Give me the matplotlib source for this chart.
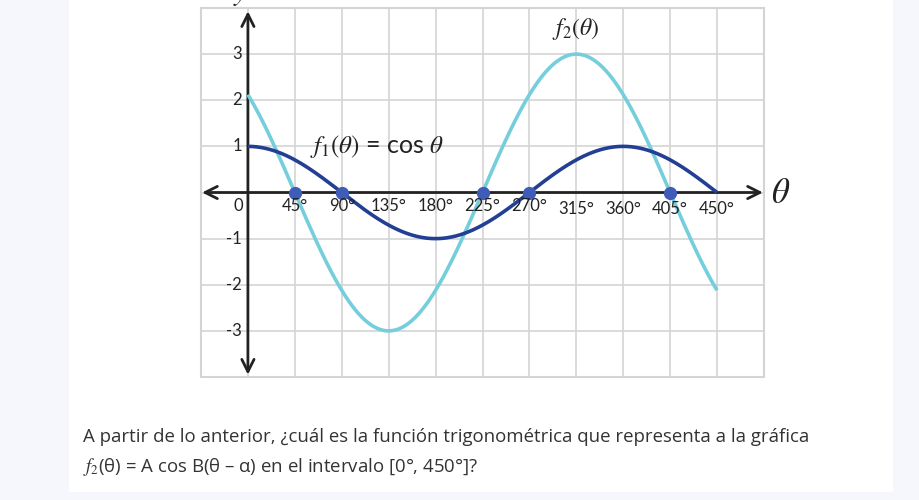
import matplotlib
matplotlib.use("Agg")
import matplotlib.pyplot as plt
import numpy as np
from matplotlib.patches import Rectangle

# datos de la grafica
x_ticks = [45, 90, 135, 180, 225, 270, 315, 360, 405, 450]
x_tick_labels = ["45°", "90°", "135°", "180°", "225°", "270°", "315°", "360°", "405°", "450°"]
y_ticks = [3, 2, 1, -1, -2, -3]
y_tick_labels = ["3", "2", "1", "-1", "-2", "-3"]
theta_deg = np.linspace(0, 450, 451)
f1 = np.cos(np.radians(theta_deg))                 # f1 = cos(theta)
f2 = 3 * np.cos(np.radians(theta_deg - 315))       # f2
point_x = [45, 90, 225, 270, 405]
point_y = [0, 0, 0, 0, 0]

plt.rcParams["mathtext.fontset"] = "stix"
plt.rcParams["font.family"] = ["Lato", "DejaVu Sans"]

W, H = 919, 500
fig = plt.figure(figsize=(W / 100, H / 100), dpi=100)
fig.patch.set_facecolor("#f5f7fc")
# panel blanco
fig.patches.append(Rectangle((69 / W, 8 / H), (893 - 69) / W, 1.0, transform=fig.transFigure,
                             facecolor="white", edgecolor="none", zorder=-5))

ax = fig.add_axes([201 / W, (H - 377) / H, (764 - 201) / W, (377 - 8) / H])
ax.set_zorder(2)
ax.set_facecolor("white")
ax.set_xlim(-45, 495)
ax.set_ylim(-4, 4)
ax.set_xticks(np.arange(-45, 496, 45))
ax.set_yticks(np.arange(-4, 5, 1))
ax.tick_params(length=0, labelbottom=False, labelleft=False)
ax.grid(True, color="#d4d4d4", lw=1.2)
for s in ax.spines.values():
    s.set_color("#d4d4d4")
    s.set_linewidth(1.5)

# ejes con flechas
ax.annotate("", xy=(494, 0), xytext=(-44, 0),
            arrowprops=dict(arrowstyle="<->", lw=2, color="#222222", mutation_scale=22, shrinkA=0, shrinkB=0))
ax.annotate("", xy=(0, 3.93), xytext=(0, -3.95),
            arrowprops=dict(arrowstyle="<->", lw=2, color="#222222", mutation_scale=22, shrinkA=0, shrinkB=0))

ax.plot(theta_deg, f2, color="#74cedc", lw=2.6, solid_capstyle="butt", zorder=3)
ax.plot(theta_deg, f1, color="#233f94", lw=2.6, solid_capstyle="butt", zorder=4)
ax.plot(point_x, point_y, "o", color="#3f5cb8", ms=8.5, zorder=5)

# etiquetas de ejes
for xv, lab in zip(x_ticks, x_tick_labels):
    dy = -0.3 if xv < 300 else -0.36
    ax.text(xv, dy, lab, ha="center", va="center", fontsize=12, color="#222222", zorder=6)
ax.text(-9, -0.3, "0", ha="center", va="center", fontsize=12, color="#222222")
for yv, lab in zip(y_ticks, y_tick_labels):
    ax.text(-5.5, yv, lab, ha="right", va="center", fontsize=12, color="#222222")

ax.text(60, 1.0, r"$f_1(\theta)$ = cos $\theta$", fontsize=18, color="#222222", va="center")
ax.text(314, 3.55, r"$f_2(\theta)$", fontsize=17, color="#222222", va="center", ha="center")
ax.text(502, -0.02, r"$\theta$", fontsize=25, color="#222222", va="center", clip_on=False)
fig.text(240 / W, 1.0, r"$y$", fontsize=20, color="#222222", ha="center", va="baseline")

# pregunta
fig.text(83 / W, 1 - 437 / H, "A partir de lo anterior, ¿cuál es la función trigonométrica que representa a la gráfica",
         fontsize=13.4, color="#333333", va="center", family=["Open Sans", "DejaVu Sans"])
fig.text(83 / W, 1 - 467 / H, r"$f_2$(θ) = A cos B(θ – α) en el intervalo [0°, 450°]?",
         fontsize=13.4, color="#333333", va="center", family=["Open Sans", "DejaVu Sans"])

fig.savefig("out.png", dpi=100, facecolor=fig.get_facecolor())
